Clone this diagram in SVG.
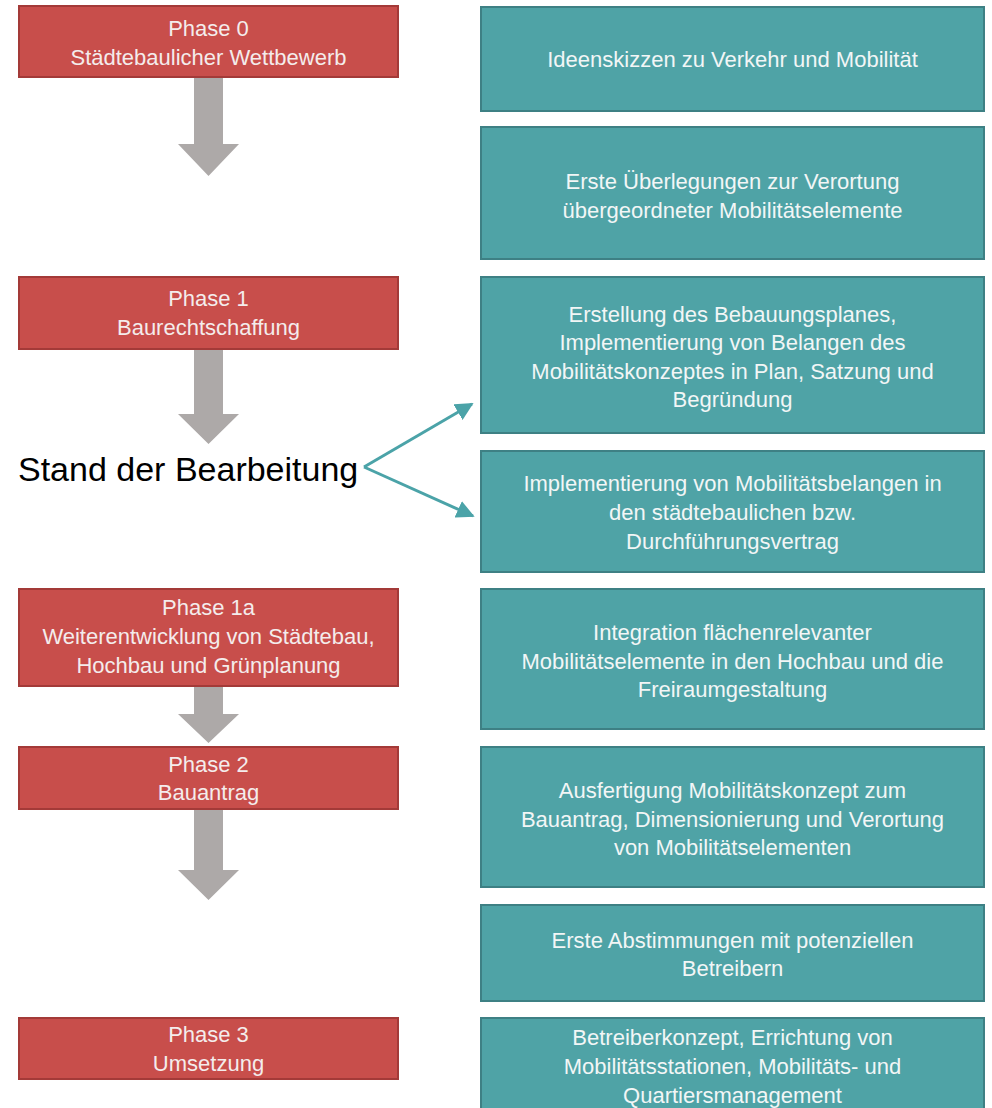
<svg xmlns="http://www.w3.org/2000/svg" width="992" height="1108" viewBox="0 0 992 1108">
<defs>
<style>
.red{fill:#C84E4B;stroke:#A33A38;stroke-width:2}
.teal{fill:#4FA3A6;stroke:#3E8084;stroke-width:2}
.gray{fill:#ADA9A8}
text{font-family:"Liberation Sans",Arial,sans-serif;font-size:22px;text-anchor:middle}
.rt{fill:#F4ECEC}
.tt{fill:#F2F6F6}
.big{font-size:34px;fill:#000;text-anchor:start}
.conn{stroke:#4BA3A8;stroke-width:3;fill:none}
</style>
<marker id="ah" viewBox="0 0 10 10" refX="9" refY="5" markerWidth="6" markerHeight="6" markerUnits="strokeWidth" orient="auto">
<path d="M0,0 L10,5 L0,10 Z" fill="#4BA3A8"/>
</marker>
</defs>

<g id="flow-arrows">
<polygon class="gray" points="194,77 223,77 223,144 239,144 208.5,176 178,144 194,144"/>
<polygon class="gray" points="194,349 223,349 223,414 239,414 208.5,444 178,414 194,414"/>
<polygon class="gray" points="194,686 223,686 223,714 239,714 208.5,743 178,714 194,714"/>
<polygon class="gray" points="194,809 223,809 223,870 239,870 208.5,900 178,870 194,870"/>
</g>

<g id="phase0">
<rect class="red" x="19" y="6" width="379" height="71"/>
<text class="rt" x="208.5" y="36">Phase 0</text>
<text class="rt" x="208.5" y="65">Städtebaulicher Wettbewerb</text>
</g>
<g id="phase1">
<rect class="red" x="19" y="277" width="379" height="72"/>
<text class="rt" x="208.5" y="306">Phase 1</text>
<text class="rt" x="208.5" y="335">Baurechtschaffung</text>
</g>
<g id="phase1a">
<rect class="red" x="19" y="589" width="379" height="97"/>
<text class="rt" x="208.5" y="615">Phase 1a</text>
<text class="rt" x="208.5" y="644">Weiterentwicklung von Städtebau,</text>
<text class="rt" x="208.5" y="673">Hochbau und Grünplanung</text>
</g>
<g id="phase2">
<rect class="red" x="19" y="747" width="379" height="62"/>
<text class="rt" x="208.5" y="772">Phase 2</text>
<text class="rt" x="208.5" y="800">Bauantrag</text>
</g>
<g id="phase3">
<rect class="red" x="19" y="1018" width="379" height="61"/>
<text class="rt" x="208.5" y="1042">Phase 3</text>
<text class="rt" x="208.5" y="1071">Umsetzung</text>
</g>

<g id="stand">
<text class="big" x="18" y="481">Stand der Bearbeitung</text>
</g>

<g id="t1">
<rect class="teal" x="481" y="7" width="503" height="104"/>
<text class="tt" x="732.5" y="67">Ideenskizzen zu Verkehr und Mobilität</text>
</g>
<g id="t2">
<rect class="teal" x="481" y="127" width="503" height="132"/>
<text class="tt" x="732.5" y="189">Erste Überlegungen zur Verortung</text>
<text class="tt" x="732.5" y="218">übergeordneter Mobilitätselemente</text>
</g>
<g id="t3">
<rect class="teal" x="481" y="277" width="503" height="156"/>
<text class="tt" x="732.5" y="322">Erstellung des Bebauungsplanes,</text>
<text class="tt" x="732.5" y="350">Implementierung von Belangen des</text>
<text class="tt" x="732.5" y="379">Mobilitätskonzeptes in Plan, Satzung und</text>
<text class="tt" x="732.5" y="407">Begründung</text>
</g>
<g id="t4">
<rect class="teal" x="481" y="451" width="503" height="121"/>
<text class="tt" x="732.5" y="491">Implementierung von Mobilitätsbelangen in</text>
<text class="tt" x="732.5" y="520">den städtebaulichen bzw.</text>
<text class="tt" x="732.5" y="549">Durchführungsvertrag</text>
</g>
<g id="t5">
<rect class="teal" x="481" y="589" width="503" height="140"/>
<text class="tt" x="732.5" y="640">Integration flächenrelevanter</text>
<text class="tt" x="732.5" y="669">Mobilitätselemente in den Hochbau und die</text>
<text class="tt" x="732.5" y="697">Freiraumgestaltung</text>
</g>
<g id="t6">
<rect class="teal" x="481" y="747" width="503" height="140"/>
<text class="tt" x="732.5" y="798">Ausfertigung Mobilitätskonzept zum</text>
<text class="tt" x="732.5" y="827">Bauantrag, Dimensionierung und Verortung</text>
<text class="tt" x="732.5" y="855">von Mobilitätselementen</text>
</g>
<g id="t7">
<rect class="teal" x="481" y="905" width="503" height="96"/>
<text class="tt" x="732.5" y="948">Erste Abstimmungen mit potenziellen</text>
<text class="tt" x="732.5" y="976">Betreibern</text>
</g>
<g id="t8">
<rect class="teal" x="481" y="1018" width="503" height="100"/>
<text class="tt" x="732.5" y="1045">Betreiberkonzept, Errichtung von</text>
<text class="tt" x="732.5" y="1074">Mobilitätsstationen, Mobilitäts- und</text>
<text class="tt" x="732.5" y="1103">Quartiersmanagement</text>
</g>

<g id="connectors">
<line class="conn" x1="364" y1="467" x2="472" y2="404" marker-end="url(#ah)"/>
<line class="conn" x1="364" y1="467" x2="473" y2="516" marker-end="url(#ah)"/>
</g>
</svg>
